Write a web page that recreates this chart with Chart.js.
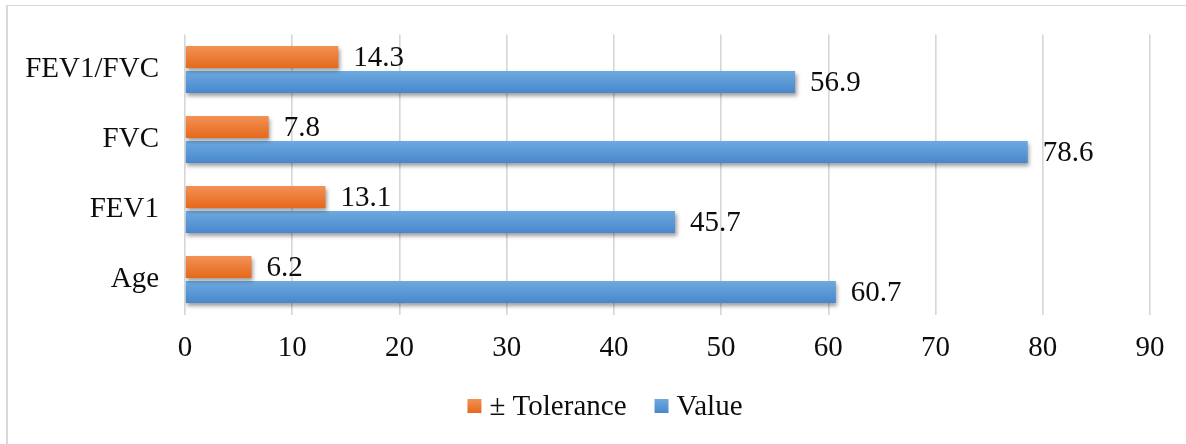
<!DOCTYPE html>
<html>
<head>
<meta charset="utf-8">
<script src="https://cdn.jsdelivr.net/npm/chart.js@4.4.1/dist/chart.umd.min.js"></script>
<style>
  html, body { margin: 0; padding: 0; background: #fff; }
  #wrap { position: relative; width: 1186px; height: 444px; overflow: hidden; }
  #frame { position: absolute; left: 6px; top: 5px; width: 1220px; height: 480px;
           border-top: 1px solid #d9d9d9; border-left: 2px solid #d9d9d9; box-sizing: border-box; }
  canvas { position: absolute; left: 0; top: 0; }
</style>
</head>
<body>
<div id="wrap">
  <div id="frame"></div>
  <canvas id="chart" width="1186" height="444"></canvas>
</div>
<script>
// Spirometry summary: value and tolerance per measure (top to bottom)
const categories = ['FEV1/FVC', 'FVC', 'FEV1', 'Age'];
const toleranceValues = [14.3, 7.8, 13.1, 6.2];
const measuredValues = [56.9, 78.6, 45.7, 60.7];
const seriesNames = ['± Tolerance', 'Value'];
const xTicks = [0, 10, 20, 30, 40, 50, 60, 70, 80, 90];

// top / bottom shades of each series' bar gradient
const seriesShades = [
  ['#f39156', '#e5691a'],
  ['#6eaae0', '#4887cc']
];

const FONT_FAMILY = "'Liberation Serif', 'Times New Roman', serif";
const FONT_SIZE = 29;
const TEXT_COLOR = '#0d0d0d';

Chart.defaults.font.family = FONT_FAMILY;
Chart.defaults.font.size = FONT_SIZE;
Chart.defaults.color = TEXT_COLOR;

function verticalGradient(ctx, top, height, shades) {
  const g = ctx.createLinearGradient(0, top, 0, top + height);
  g.addColorStop(0, shades[0]);
  g.addColorStop(1, shades[1]);
  return g;
}

// gradient fill + soft drop shadow on every bar
const barShading = {
  id: 'barShading',
  beforeDatasetDraw(chart, args) {
    const ctx = chart.ctx;
    const shades = seriesShades[args.index];
    args.meta.data.forEach(bar => {
      const h = bar.height;
      const fill = verticalGradient(ctx, bar.y - h / 2, h, shades);
      bar.options = Object.assign({}, bar.options, { backgroundColor: fill });
    });
    ctx.save();
    ctx.shadowColor = 'rgba(0, 0, 0, 0.38)';
    ctx.shadowBlur = 4;
    ctx.shadowOffsetX = 1.5;
    ctx.shadowOffsetY = 2.5;
  },
  afterDatasetDraw(chart) {
    chart.ctx.restore();
  }
};

// value labels just past the end of each bar
const valueLabels = {
  id: 'valueLabels',
  afterDatasetsDraw(chart) {
    const ctx = chart.ctx;
    ctx.save();
    ctx.font = FONT_SIZE + 'px ' + FONT_FAMILY;
    ctx.fillStyle = TEXT_COLOR;
    ctx.textAlign = 'left';
    ctx.textBaseline = 'middle';
    chart.data.datasets.forEach((ds, i) => {
      chart.getDatasetMeta(i).data.forEach((bar, j) => {
        ctx.fillText(ds.data[j].toFixed(1), bar.x + 15, bar.y + 1);
      });
    });
    ctx.restore();
  }
};

// legend row centred under the plot
const legendRow = {
  id: 'legendRow',
  afterDraw(chart) {
    const ctx = chart.ctx;
    ctx.save();
    ctx.font = FONT_SIZE + 'px ' + FONT_FAMILY;
    const box = 14, gapText = 8, gapItem = 28;
    const widths = chart.data.datasets.map(ds => ctx.measureText(ds.label).width);
    let total = 0;
    widths.forEach((w, i) => { total += box + gapText + w + (i ? gapItem : 0); });
    let x = 605 - total / 2;
    const cy = 406;
    chart.data.datasets.forEach((ds, i) => {
      ctx.fillStyle = verticalGradient(ctx, cy - box / 2, box, seriesShades[i]);
      ctx.fillRect(x, cy - box / 2, box, box);
      x += box + gapText;
      ctx.fillStyle = TEXT_COLOR;
      ctx.textAlign = 'left';
      ctx.textBaseline = 'middle';
      ctx.fillText(ds.label, x, cy + 1);
      x += widths[i] + gapItem;
    });
    ctx.restore();
  }
};

new Chart(document.getElementById('chart'), {
  type: 'bar',
  data: {
    labels: categories,
    datasets: [
      { label: seriesNames[0], data: toleranceValues, backgroundColor: seriesShades[0][1] },
      { label: seriesNames[1], data: measuredValues, backgroundColor: seriesShades[1][1] }
    ]
  },
  options: {
    indexAxis: 'y',
    responsive: false,
    animation: false,
    devicePixelRatio: 1,
    categoryPercentage: 50 / 70,
    barPercentage: 0.88,
    layout: { padding: { left: 0, top: 34.5, right: 36, bottom: 79.5 } },
    plugins: {
      legend: { display: false },
      tooltip: { enabled: false }
    },
    scales: {
      x: {
        min: 0,
        max: 90,
        afterBuildTicks(scale) { scale.ticks = xTicks.map(v => ({ value: v })); },
        afterFit(scale) { scale.height = 50; scale.paddingLeft = 0; scale.paddingRight = 0; },
        border: { display: false },
        grid: { color: '#d6d6d6', lineWidth: 1.6, drawTicks: false },
        ticks: { padding: 16, maxRotation: 0, autoSkip: false }
      },
      y: {
        afterFit(scale) { scale.width = 185; scale.paddingTop = 0; scale.paddingBottom = 0; },
        border: { display: false },
        grid: { display: false, drawTicks: false },
        ticks: { padding: 26 }
      }
    }
  },
  plugins: [barShading, valueLabels, legendRow]
});
</script>
</body>
</html>
